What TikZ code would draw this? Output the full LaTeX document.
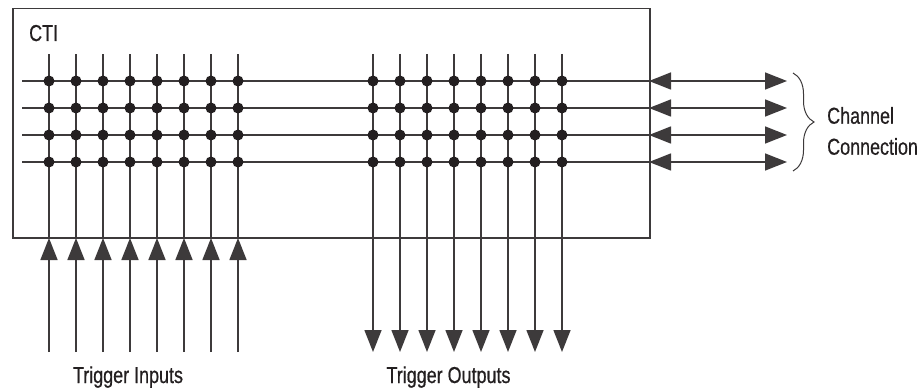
\documentclass[tikz,border=0pt]{standalone}
\usepackage{fontspec}
\setmainfont{Liberation Sans}[FakeStretch=0.78, FakeBold=0.6]
\usetikzlibrary{arrows.meta,decorations.pathreplacing}
\definecolor{ink}{HTML}{231F20}
\begin{document}
\begin{tikzpicture}[x=1pt,y=-1pt,
  wire/.style={draw=ink!88, line width=1.5pt},
  uptip/.style={-{Triangle[length=22pt,width=17pt]}},
  bothtip/.style={{Triangle[length=22pt,width=17pt]}-{Triangle[length=22pt,width=17pt]}},
  jdot/.style={circle, fill=ink, inner sep=0pt, minimum size=11pt},
  lbl/.style={font=\fontsize{23}{31}\selectfont, text=ink, inner sep=0pt}]
\useasboundingbox (0,0) rectangle (917,390);
% CTI box
\node[draw=ink!88, line width=1.5pt, minimum width=637pt, minimum height=229pt,
      inner sep=0pt, anchor=north west] (cti) at (12,8) {};
\node[lbl, anchor=base west] (ctilbl) at (29,41) {CTI};
% horizontal channel lines
\foreach \j/\y in {1/81,2/108,3/135,4/162}{
  \coordinate (hL\j) at (22,\y);
  \coordinate (hB\j) at (649,\y);
  \coordinate (hR\j) at (787,\y);
  \draw[wire] (hL\j) -- (hB\j);
  \draw[wire, bothtip] (hB\j) -- (hR\j);
}
% trigger inputs
\foreach \i in {0,...,7}{
  \pgfmathsetmacro{\xx}{49+27*\i}
  \coordinate (iT\i) at (\xx,54);
  \coordinate (iB\i) at (\xx,238);
  \coordinate (iE\i) at (\xx,352);
  \draw[wire] (iB\i) -- (iT\i);
  \draw[wire, uptip] (iE\i) -- (iB\i);
}
% trigger outputs
\foreach \i in {0,...,7}{
  \pgfmathsetmacro{\xx}{373+27*\i}
  \coordinate (oT\i) at (\xx,54);
  \coordinate (oE\i) at (\xx,352);
  \draw[wire, uptip] (oT\i) -- (oE\i);
}
% junction dots
\foreach \i in {0,...,7}{
  \foreach \j/\y in {1/81,2/108,3/135,4/162}{
    \node[jdot] (di\i-\j) at (49+27*\i,\y) {};
    \node[jdot] (do\i-\j) at (373+27*\i,\y) {};
  }
}
% brace and labels
\coordinate (bt) at (793,73);
\coordinate (bb) at (793,171);
\draw[draw=ink!88, line width=1pt, decorate, decoration={brace, amplitude=21pt}] (bt) -- (bb);
\node[lbl, align=left, anchor=west] (chan) at (827,131) {Channel\\Connection};
\node[lbl, anchor=base] (tin) at (128,383) {Trigger Inputs};
\node[lbl, anchor=base] (tout) at (448.5,383) {Trigger Outputs};
\end{tikzpicture}
\end{document}
